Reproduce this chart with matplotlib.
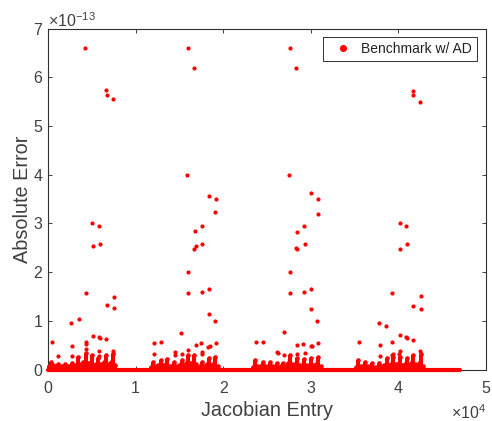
import matplotlib
matplotlib.use('Agg')
import matplotlib.pyplot as plt

plt.rcParams['font.family'] = ['Liberation Sans', 'DejaVu Sans']
plt.rcParams['mathtext.fontset'] = 'custom'
plt.rcParams['mathtext.rm'] = 'Liberation Sans'
plt.rcParams['mathtext.default'] = 'regular'

DARK = '#404040'

# x in units of 1e4, y in units of 1e-13
# scattered points, one group per block of the Jacobian
x_block1 = [0.426, 0.662, 0.670, 0.738, 0.504, 0.580, 0.511, 0.588, 0.431, 0.748, 0.672, 0.748, 0.351, 0.267,
            0.042, 0.515, 0.580, 0.588, 0.664, 0.431, 0.431, 0.431, 0.275, 0.580, 0.740, 0.740, 0.118, 0.275, 0.580]
y_block1 = [6.60, 5.745, 5.64, 5.55, 3.00, 2.945, 2.534, 2.58, 1.568, 1.493, 1.315, 1.267, 1.04, 0.96,
            0.568, 0.69, 0.664, 0.644, 0.63, 0.568, 0.52, 0.425, 0.48, 0.37, 0.384, 0.34, 0.28, 0.267, 0.28]

x_block2 = [1.602, 1.670, 1.587, 1.838, 1.914, 1.912, 1.760, 1.680, 1.687, 1.664, 1.760, 1.603, 1.603, 1.760,
            1.836, 1.836, 1.912, 1.523, 1.210, 1.286, 1.206, 1.447, 1.447, 1.534, 1.600, 1.687, 1.752, 1.824,
            1.847, 1.920, 1.755, 1.760]
y_block2 = [6.60, 6.19, 4.00, 3.56, 3.50, 3.226, 2.945, 2.836, 2.534, 2.473, 2.58, 2.00, 1.568, 1.596,
            1.644, 1.144, 0.993, 0.753, 0.54, 0.555, 0.308, 0.363, 0.295, 0.32, 0.404, 0.493, 0.54, 0.466,
            0.48, 0.54, 0.35, 0.32]

x_block3 = [2.768, 2.836, 2.753, 3.004, 3.080, 3.084, 2.924, 2.840, 2.930, 2.836, 2.844, 2.764, 2.764, 2.924,
            3.000, 3.000, 3.070, 2.690, 2.376, 2.452, 2.848, 2.913, 3.000, 3.008, 3.084, 2.840, 2.930, 2.612,
            2.624, 2.696]
y_block3 = [6.60, 6.19, 4.00, 3.62, 3.51, 3.19, 2.945, 2.82, 2.58, 2.49, 2.473, 2.00, 1.568, 1.60,
            1.658, 1.24, 1.00, 0.78, 0.555, 0.555, 0.493, 0.52, 0.48, 0.48, 0.534, 0.32, 0.34, 0.356,
            0.33, 0.295]

x_block4 = [4.170, 4.170, 4.247, 4.015, 4.087, 4.015, 4.100, 3.928, 4.255, 4.170, 4.255, 3.780, 3.860, 3.550,
            4.015, 4.087, 4.100, 4.170, 3.928, 3.790, 4.247, 4.015, 3.940, 3.932, 4.010, 3.790]
y_block4 = [5.72, 5.63, 5.49, 3.00, 2.945, 2.473, 2.58, 1.568, 1.507, 1.295, 1.247, 0.96, 0.89, 0.568,
            0.705, 0.67, 0.644, 0.596, 0.568, 0.493, 0.384, 0.384, 0.32, 0.30, 0.31, 0.267]

# dense humps near zero: shoulder, peak, shoulder of each hump
hump_x = [0.010, 0.034, 0.060, 0.090, 0.118, 0.145, 0.170, 0.194, 0.220, 0.245, 0.270, 0.295, 0.320, 0.346, 0.375,
          0.400, 0.430, 0.460, 0.475, 0.499, 0.525, 0.550, 0.574, 0.600, 0.635, 0.659, 0.685, 0.715, 0.738, 0.765,
          1.175, 1.202, 1.230, 1.260, 1.286, 1.315, 1.335, 1.362, 1.390, 1.410, 1.438, 1.465, 1.500, 1.526, 1.550,
          1.570, 1.594, 1.620, 1.645, 1.669, 1.695, 1.730, 1.754, 1.780, 1.810, 1.834, 1.860, 1.880, 1.906, 1.935,
          2.340, 2.363, 2.390, 2.425, 2.451, 2.480, 2.510, 2.534, 2.560, 2.590, 2.618, 2.645, 2.660, 2.686, 2.715,
          2.740, 2.763, 2.790, 2.815, 2.839, 2.865, 2.900, 2.922, 2.950, 2.975, 3.002, 3.030, 3.060, 3.086, 3.115,
          3.515, 3.543, 3.570, 3.595, 3.619, 3.645, 3.680, 3.703, 3.730, 3.760, 3.782, 3.810, 3.840, 3.866, 3.890,
          3.915, 3.942, 3.970, 3.995, 4.018, 4.045, 4.070, 4.095, 4.120, 4.145, 4.170, 4.195, 4.230, 4.254, 4.285]
hump_y = [0.07, 0.157, 0.09, 0.07, 0.12, 0.07, 0.07, 0.11, 0.07, 0.07, 0.137, 0.08, 0.09, 0.26, 0.12,
          0.15, 0.34, 0.14, 0.13, 0.295, 0.10, 0.12, 0.226, 0.11, 0.15, 0.295, 0.12, 0.15, 0.31, 0.09,
          0.05, 0.15, 0.07, 0.09, 0.20, 0.09, 0.10, 0.21, 0.08, 0.08, 0.16, 0.08, 0.09, 0.195, 0.09,
          0.13, 0.30, 0.13, 0.13, 0.29, 0.12, 0.08, 0.16, 0.07, 0.11, 0.23, 0.10, 0.12, 0.25, 0.08,
          0.05, 0.19, 0.07, 0.08, 0.16, 0.07, 0.07, 0.16, 0.07, 0.07, 0.13, 0.06, 0.07, 0.14, 0.07,
          0.14, 0.30, 0.12, 0.11, 0.23, 0.09, 0.10, 0.21, 0.09, 0.10, 0.23, 0.09, 0.11, 0.25, 0.07,
          0.05, 0.19, 0.08, 0.08, 0.16, 0.07, 0.07, 0.14, 0.06, 0.06, 0.14, 0.07, 0.10, 0.23, 0.10,
          0.12, 0.26, 0.11, 0.12, 0.26, 0.10, 0.11, 0.23, 0.10, 0.13, 0.30, 0.11, 0.14, 0.32, 0.07]

# end of the row of entries along zero
last_entry = 4.70

y_ticks = [0, 1, 2, 3, 4, 5, 6, 7]
x_ticks = [0, 1, 2, 3, 4, 5]

fig = plt.figure(figsize=(4.92, 4.21), dpi=100)
ax = fig.add_axes([48 / 492, 1 - 369.5 / 421, 438 / 492, 341 / 421])

# the row at zero, drawn over the axis line
ax.plot([0, last_entry], [0, 0], color='red', lw=3.0, solid_capstyle='round', clip_on=False, zorder=3)
ax.vlines(hump_x, 0, hump_y, color='red', lw=2.9, clip_on=False, zorder=3)
ax.plot(hump_x, hump_y, 'o', color='red', ms=3.3, mew=0, clip_on=False, zorder=3)

pts, = ax.plot(x_block1 + x_block2 + x_block3 + x_block4, y_block1 + y_block2 + y_block3 + y_block4,
               linestyle='none', marker='o', color='red', ms=3.0, mew=0, zorder=3, label='Benchmark w/ AD')

ax.set_xlim(0, 5)
ax.set_ylim(0, 7)
ax.set_xticks(x_ticks)
ax.set_yticks(y_ticks)
ax.tick_params(direction='in', top=True, right=True, length=3, width=0.7, color=DARK,
               labelcolor=DARK, labelsize=11.5)
ax.tick_params(axis='x', pad=8)
ax.tick_params(axis='y', pad=4)
for s in ax.spines.values():
    s.set_linewidth(0.8)
    s.set_color('#303030')

ax.set_xlabel('Jacobian Entry', fontsize=14.3, color=DARK, labelpad=4)
ax.set_ylabel('Absolute Error', fontsize=14.3, color=DARK, labelpad=1)

ax.text(0, 0.997, r'$\times10^{-13}$', transform=ax.transAxes, fontsize=11.5, color=DARK, ha='left', va='bottom')
ax.text(1.0, -0.098, r'$\times10^{4}$', transform=ax.transAxes, fontsize=11.5, color=DARK, ha='right', va='top')

leg = ax.legend(handles=[pts], loc='upper right', bbox_to_anchor=(476.7 / 492, 1 - 37 / 421),
                bbox_transform=fig.transFigure, fontsize=10, markerscale=1.7, fancybox=False, framealpha=1,
                edgecolor='#303030', borderaxespad=0, borderpad=0.35, handletextpad=0.2, handlelength=2.17)
leg.get_frame().set_linewidth(0.7)
leg.get_texts()[0].set_color('#222222')

fig.savefig('out.png', dpi=100)
